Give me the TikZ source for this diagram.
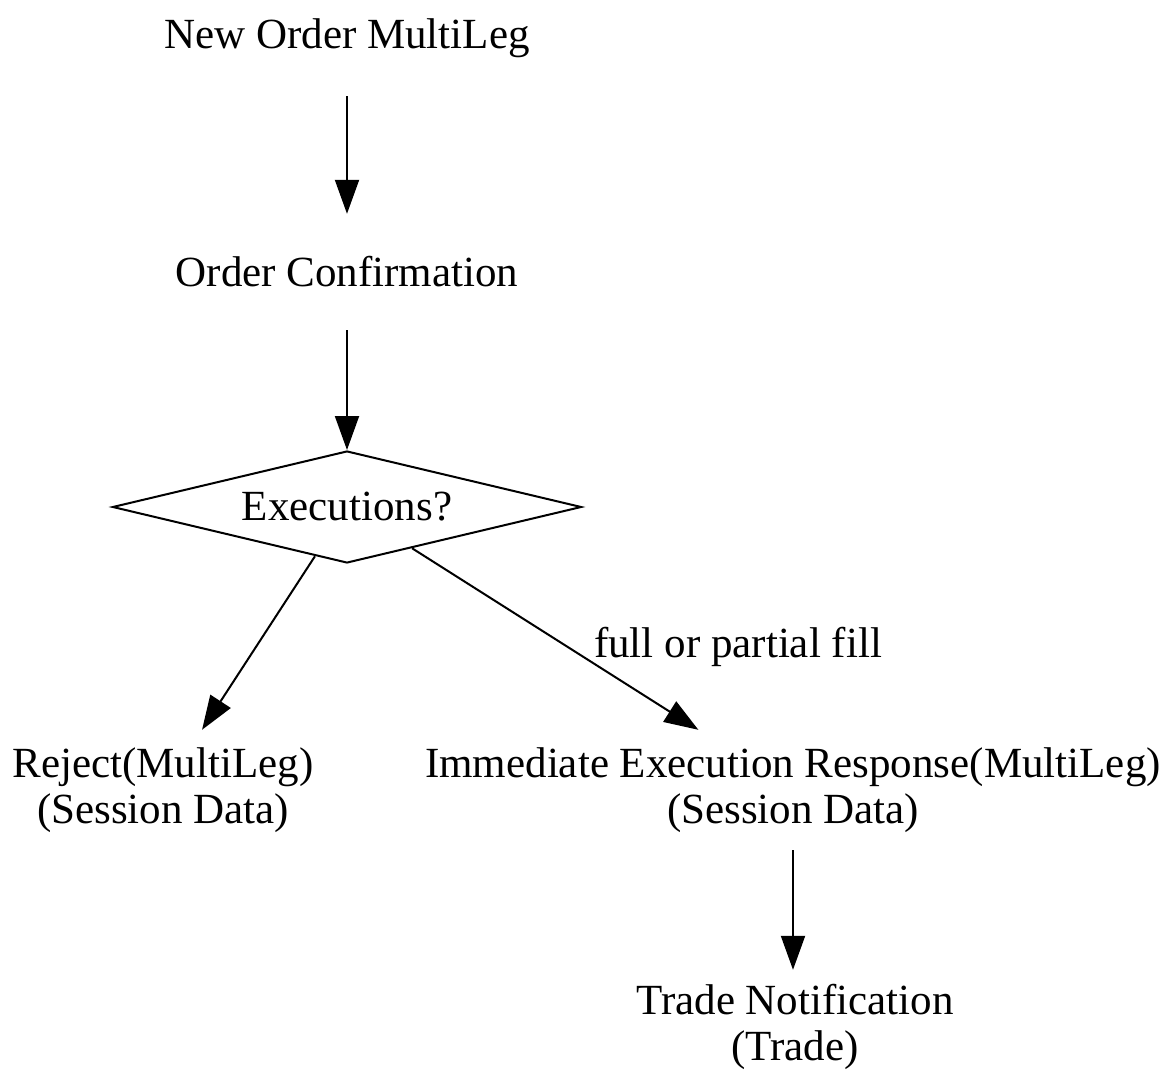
\documentclass[tikz,border=0pt]{standalone}
\usepackage{fontspec}
\setmainfont{Liberation Serif}
\usetikzlibrary{shapes.geometric,arrows.meta}
\begin{document}
\begin{tikzpicture}[x=1pt,y=-1pt,
  every node/.style={font=\fontsize{43}{46}\selectfont},
  txt/.style={align=center, inner sep=0pt, minimum height=116pt},
  dec/.style={draw, line width=2pt, diamond, shape aspect=4.2, minimum width=469pt, minimum height=112pt, inner sep=0pt},
  arr/.style={line width=2pt, -{Triangle[length=34pt,width=24pt]}}]
\useasboundingbox (0,0) rectangle (1165,1070);
\node[txt] (new) at (347,38) {New Order MultiLeg};
\node[txt] (conf) at (347,272) {Order Confirmation};
\node[dec] (exec) at (347,507) {Executions?};
\node[txt, minimum height=120pt] (rej) at (163,790) {Reject(MultiLeg)\\(Session Data)};
\node[txt, minimum height=120pt] (imm) at (793,790) {Immediate Execution Response(MultiLeg)\\(Session Data)};
\node[txt, minimum height=114pt] (trade) at (795,1027) {Trade Notification\\(Trade)};
\node[inner sep=0pt] (lbl) at (738,647) {full or partial fill};
\draw[arr] (new) -- (conf);
\draw[arr] (conf) -- (exec);
\draw[arr] (exec) -- (rej);
\draw[arr] (exec) -- (imm);
\draw[arr] (imm.south) -- (imm.south |- trade.north);
\end{tikzpicture}
\end{document}
